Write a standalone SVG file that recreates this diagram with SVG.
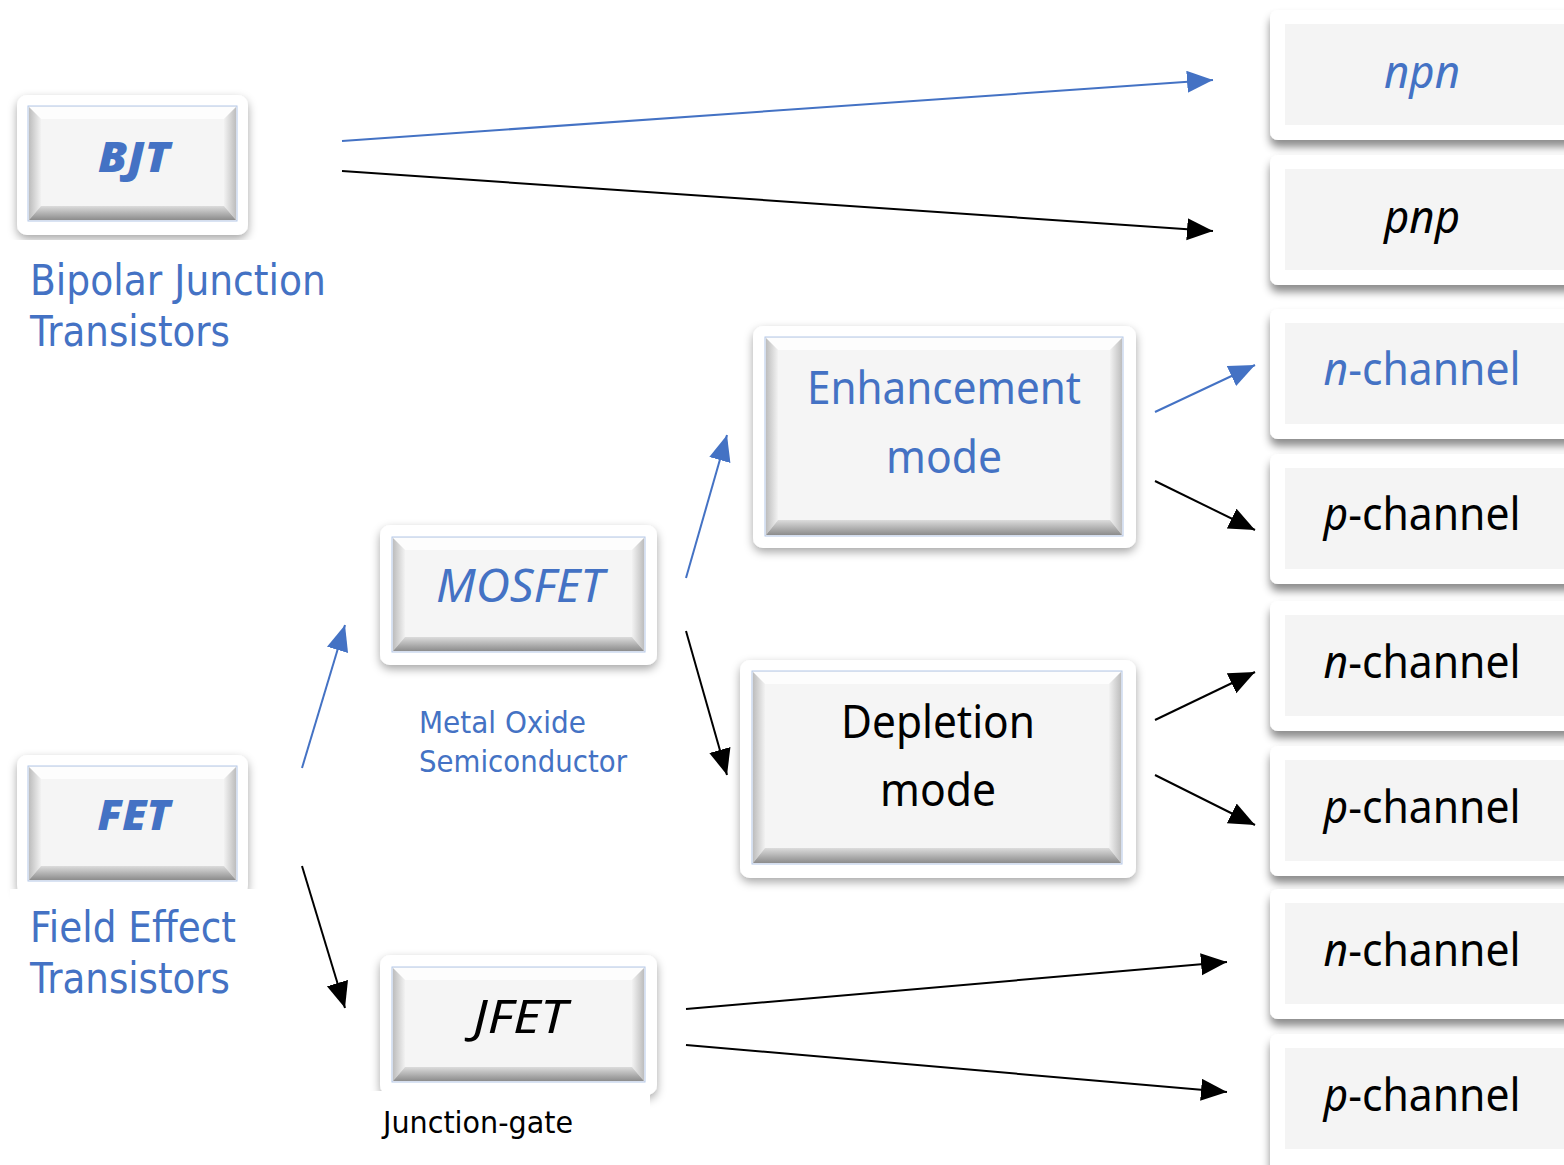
<svg xmlns="http://www.w3.org/2000/svg" width="1564" height="1165" viewBox="0 0 1564 1165">
<defs>
<filter id="sh" x="-10%" y="-10%" width="120%" height="130%">
<feDropShadow dx="0" dy="4" stdDeviation="5" flood-color="#000" flood-opacity="0.35"/>
</filter>
<filter id="sh2" x="-10%" y="-10%" width="120%" height="140%">
<feDropShadow dx="0" dy="7" stdDeviation="4" flood-color="#000" flood-opacity="0.45"/>
</filter>
<linearGradient id="gl" x1="0" y1="0" x2="1" y2="0"><stop offset="0" stop-color="#bdbdbd"/><stop offset="1" stop-color="#f2f2f2"/></linearGradient>
<linearGradient id="gr" x1="0" y1="0" x2="1" y2="0"><stop offset="0" stop-color="#f2f2f2"/><stop offset="1" stop-color="#bdbdbd"/></linearGradient>
<linearGradient id="gb" x1="0" y1="0" x2="0" y2="1"><stop offset="0" stop-color="#dcdcdc"/><stop offset="1" stop-color="#8c8c8c"/></linearGradient>
<marker id="ab" markerUnits="userSpaceOnUse" markerWidth="28" markerHeight="24" refX="26" refY="11" orient="auto"><path d="M0,0 L26,11 L0,22 z" fill="#4472c4"/></marker>
<marker id="ak" markerUnits="userSpaceOnUse" markerWidth="28" markerHeight="24" refX="26" refY="11" orient="auto"><path d="M0,0 L26,11 L0,22 z" fill="#000"/></marker>
<style>
.outer{fill:#fff;filter:url(#sh)}
.outer2{fill:#fff;filter:url(#sh2)}
.face{fill:#f5f5f5;stroke:#b4c7e7;stroke-width:1}
.flat{fill:#f4f4f4}
.top{fill:#fdfdfd}
.l{fill:url(#gl)}.r{fill:url(#gr)}.b{fill:url(#gb)}
.bt{font-family:"Noto Sans","Open Sans",sans-serif;text-anchor:middle}
.lbl{font-family:"DejaVu Sans","Noto Sans",sans-serif;fill:#4472c4}
.blue{fill:#4472c4}.blk{fill:#000}
.cb{stroke:#4472c4;stroke-width:2;fill:none;marker-end:url(#ab)}
.ck{stroke:#000;stroke-width:2;fill:none;marker-end:url(#ak)}
</style>
</defs>
<rect width="1564" height="1165" fill="#fff"/>

<g id="bjt">
<rect class="outer" x="17" y="95" width="231" height="140" rx="10"/>
<rect class="face" x="28" y="106" width="209" height="115"/>
<polygon class="top" points="29,107 236,107 224,119 41,119"/>
<polygon class="l" points="29,107 41,119 41,206 29,220"/>
<polygon class="r" points="236,107 236,220 224,206 224,119"/>
<polygon class="b" points="29,220 41,206 224,206 236,220"/>
<text class="bt blue" x="134" y="172" font-size="42" font-weight="900" font-style="italic" textLength="72" lengthAdjust="spacingAndGlyphs">BJT</text>
</g>
<g id="bjt-label">
<rect x="8" y="240" width="320" height="115" fill="#fff"/>
<text class="lbl" x="30" y="295" font-size="42" textLength="296" lengthAdjust="spacingAndGlyphs">Bipolar Junction</text>
<text class="lbl" x="30" y="346" font-size="42" textLength="200" lengthAdjust="spacingAndGlyphs">Transistors</text>
</g>

<g id="fet">
<rect class="outer" x="17" y="755" width="231" height="140" rx="10"/>
<rect class="face" x="28" y="766" width="209" height="115"/>
<polygon class="top" points="29,767 236,767 224,779 41,779"/>
<polygon class="l" points="29,767 41,779 41,866 29,880"/>
<polygon class="r" points="236,767 236,880 224,866 224,779"/>
<polygon class="b" points="29,880 41,866 224,866 236,880"/>
<text class="bt blue" x="134" y="830" font-size="42" font-weight="900" font-style="italic" textLength="73" lengthAdjust="spacingAndGlyphs">FET</text>
</g>
<g id="fet-label">
<rect x="10" y="889" width="254" height="115" fill="#fff"/>
<text class="lbl" x="30" y="942" font-size="42" textLength="206" lengthAdjust="spacingAndGlyphs">Field Effect</text>
<text class="lbl" x="30" y="993" font-size="42" textLength="200" lengthAdjust="spacingAndGlyphs">Transistors</text>
</g>

<g id="mosfet">
<rect class="outer" x="380" y="525" width="277" height="140" rx="10"/>
<rect class="face" x="392" y="537" width="253" height="115"/>
<polygon class="top" points="393,538 644,538 632,550 405,550"/>
<polygon class="l" points="393,538 405,550 405,637 393,651"/>
<polygon class="r" points="644,538 644,651 632,637 632,550"/>
<polygon class="b" points="393,651 405,637 632,637 644,651"/>
<text class="bt blue" x="520" y="602" font-size="46" font-style="italic" textLength="168" lengthAdjust="spacingAndGlyphs">MOSFET</text>
</g>
<g id="mosfet-label">
<text class="lbl" x="419" y="733" font-size="31" textLength="167" lengthAdjust="spacingAndGlyphs">Metal Oxide</text>
<text class="lbl" x="419" y="772" font-size="31" textLength="208" lengthAdjust="spacingAndGlyphs">Semiconductor</text>
</g>

<g id="jfet">
<rect class="outer" x="380" y="955" width="277" height="140" rx="10"/>
<rect class="face" x="392" y="967" width="253" height="115"/>
<polygon class="top" points="393,968 644,968 632,980 405,980"/>
<polygon class="l" points="393,968 405,980 405,1067 393,1081"/>
<polygon class="r" points="644,968 644,1081 632,1067 632,980"/>
<polygon class="b" points="393,1081 405,1067 632,1067 644,1081"/>
<text class="bt blk" x="520" y="1033" font-size="46" font-style="italic" textLength="94" lengthAdjust="spacingAndGlyphs">JFET</text>
</g>
<g id="jfet-label">
<rect x="364" y="1091" width="286" height="74" fill="#fff"/>
<text x="383" y="1133" font-size="31" font-family="DejaVu Sans,Noto Sans,sans-serif" fill="#000" textLength="190" lengthAdjust="spacingAndGlyphs">Junction-gate</text>
</g>

<g id="enh">
<rect class="outer" x="753" y="326" width="383" height="222" rx="10"/>
<rect class="face" x="765" y="337" width="358" height="199"/>
<polygon class="top" points="766,338 1122,338 1110,350 778,350"/>
<polygon class="l" points="766,338 778,350 778,520 766,535"/>
<polygon class="r" points="1122,338 1122,535 1110,520 1110,350"/>
<polygon class="b" points="766,535 778,520 1110,520 1122,535"/>
<text class="bt blue" x="944" y="404" font-size="46" textLength="274" lengthAdjust="spacingAndGlyphs">Enhancement</text>
<text class="bt blue" x="944" y="473" font-size="46" textLength="116" lengthAdjust="spacingAndGlyphs">mode</text>
</g>

<g id="dep">
<rect class="outer" x="740" y="660" width="396" height="218" rx="10"/>
<rect class="face" x="752" y="671" width="370" height="193"/>
<polygon class="top" points="753,672 1121,672 1109,684 765,684"/>
<polygon class="l" points="753,672 765,684 765,848 753,863"/>
<polygon class="r" points="1121,672 1121,863 1109,848 1109,684"/>
<polygon class="b" points="753,863 765,848 1109,848 1121,863"/>
<text class="bt blk" x="938" y="738" font-size="46" textLength="194" lengthAdjust="spacingAndGlyphs">Depletion</text>
<text class="bt blk" x="938" y="806" font-size="46" textLength="116" lengthAdjust="spacingAndGlyphs">mode</text>
</g>

<g id="npn">
<rect class="outer2" x="1270" y="10" width="310" height="130" rx="8"/>
<rect class="flat" x="1285" y="24" width="279" height="101"/>
<text class="bt blue" x="1422" y="88" font-size="46" font-style="italic" textLength="76" lengthAdjust="spacingAndGlyphs">npn</text>
</g>
<g id="pnp">
<rect class="outer2" x="1270" y="155" width="310" height="130" rx="8"/>
<rect class="flat" x="1285" y="169" width="279" height="101"/>
<text class="bt blk" x="1422" y="233" font-size="46" font-style="italic" textLength="76" lengthAdjust="spacingAndGlyphs">pnp</text>
</g>
<g id="enh-n">
<rect class="outer2" x="1270" y="309" width="310" height="130" rx="8"/>
<rect class="flat" x="1285" y="323" width="279" height="101"/>
<text class="bt blue" x="1422" y="385" font-size="46" textLength="197" lengthAdjust="spacingAndGlyphs"><tspan font-style="italic">n</tspan>-channel</text>
</g>
<g id="enh-p">
<rect class="outer2" x="1270" y="454" width="310" height="130" rx="8"/>
<rect class="flat" x="1285" y="468" width="279" height="101"/>
<text class="bt blk" x="1422" y="530" font-size="46" textLength="197" lengthAdjust="spacingAndGlyphs"><tspan font-style="italic">p</tspan>-channel</text>
</g>
<g id="dep-n">
<rect class="outer2" x="1270" y="601" width="310" height="130" rx="8"/>
<rect class="flat" x="1285" y="615" width="279" height="101"/>
<text class="bt blk" x="1422" y="678" font-size="46" textLength="197" lengthAdjust="spacingAndGlyphs"><tspan font-style="italic">n</tspan>-channel</text>
</g>
<g id="dep-p">
<rect class="outer2" x="1270" y="746" width="310" height="130" rx="8"/>
<rect class="flat" x="1285" y="760" width="279" height="101"/>
<text class="bt blk" x="1422" y="823" font-size="46" textLength="197" lengthAdjust="spacingAndGlyphs"><tspan font-style="italic">p</tspan>-channel</text>
</g>
<g id="jfet-n">
<rect class="outer2" x="1270" y="889" width="310" height="130" rx="8"/>
<rect class="flat" x="1285" y="903" width="279" height="101"/>
<text class="bt blk" x="1422" y="966" font-size="46" textLength="197" lengthAdjust="spacingAndGlyphs"><tspan font-style="italic">n</tspan>-channel</text>
</g>
<g id="jfet-p">
<rect class="outer2" x="1270" y="1034" width="310" height="140" rx="8"/>
<rect class="flat" x="1285" y="1048" width="279" height="101"/>
<text class="bt blk" x="1422" y="1111" font-size="46" textLength="197" lengthAdjust="spacingAndGlyphs"><tspan font-style="italic">p</tspan>-channel</text>
</g>

<g id="connectors">
<line class="cb" x1="342" y1="141" x2="1213" y2="80"/>
<line class="ck" x1="342" y1="171" x2="1213" y2="231"/>
<line class="cb" x1="1155" y1="412" x2="1255" y2="365"/>
<line class="ck" x1="1155" y1="481" x2="1255" y2="530"/>
<line class="ck" x1="1155" y1="720" x2="1255" y2="672"/>
<line class="ck" x1="1155" y1="775" x2="1255" y2="825"/>
<line class="cb" x1="686" y1="578" x2="727" y2="435"/>
<line class="ck" x1="686" y1="631" x2="727" y2="775"/>
<line class="cb" x1="302" y1="768" x2="345" y2="625"/>
<line class="ck" x1="302" y1="866" x2="345" y2="1008"/>
<line class="ck" x1="686" y1="1009" x2="1227" y2="962"/>
<line class="ck" x1="686" y1="1045" x2="1227" y2="1092"/>
</g>
</svg>
